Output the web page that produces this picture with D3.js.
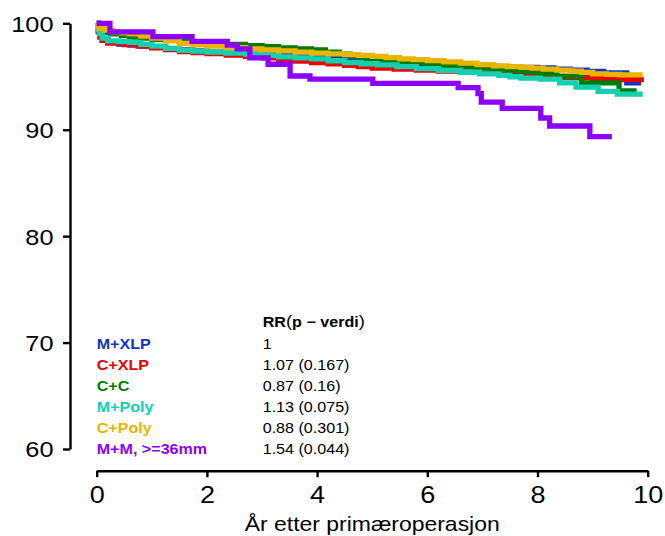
<!DOCTYPE html>
<html>
<head>
<meta charset="utf-8">
<script src="https://cdn.jsdelivr.net/npm/d3@7"></script>
<style>
  html, body { margin: 0; padding: 0; background: #fff; }
  svg { display: block; }
  text { font-family: "Liberation Sans", Arial, Helvetica, sans-serif; }
</style>
</head>
<body>
<div id="chart"></div>
<script>
// ---- data (Kaplan-Meier style survival, %) ----
const seriesNames = ["M+XLP", "C+XLP", "C+C", "M+Poly", "C+Poly", "M+M, >=36mm"];
const rrLabels = ["1", "1.07 (0.167)", "0.87 (0.16)", "1.13 (0.075)", "0.88 (0.301)", "1.54 (0.044)"];
const xTicks = [0, 2, 4, 6, 8, 10];
const yTicks = [60, 70, 80, 90, 100];
const xTitle = "År etter primæroperasjon";

const mXlp = [[0,100],[0.03,99.3],[0.06,98.8],[0.1,98.45],[0.2,98.2],[0.4,98.05],[0.6,97.95],[0.8,97.85],[1.0,97.75],[1.25,97.62],[1.5,97.5],[1.75,97.4],[2.0,97.3],[2.35,97.2],[2.7,97.1],[3.0,97.02],[3.3,96.95],[3.6,96.88],[3.9,96.8],[4.2,96.68],[4.5,96.55],[4.8,96.45],[5.1,96.35],[5.45,96.25],[5.8,96.15],[6.2,96.07],[6.6,96.0],[6.95,95.95],[7.3,95.9],[7.65,95.85],[8.0,95.8],[8.3,95.7],[8.6,95.6],[8.9,95.48],[9.2,95.35],[9.62,94.4],[9.88,94.4]];
const cXlp = [[0,100],[0.03,99.2],[0.06,98.7],[0.1,98.4],[0.2,98.15],[0.5,98.0],[0.75,97.85],[1.0,97.7],[1.25,97.52],[1.5,97.35],[1.75,97.25],[2.0,97.15],[2.35,97.02],[2.7,96.9],[3.0,96.75],[3.3,96.6],[3.6,96.45],[3.9,96.3],[4.2,96.18],[4.5,96.05],[4.75,95.92],[5.0,95.8],[5.4,95.7],[5.8,95.6],[6.2,95.5],[6.6,95.4],[6.95,95.32],[7.3,95.25],[7.65,95.2],[8.0,95.15],[8.25,95.02],[8.5,94.9],[9.0,94.8],[9.5,94.7],[9.93,94.7]];
const cC = [[0,100],[0.05,99.4],[0.1,99.15],[0.25,99.0],[0.45,98.85],[0.6,98.7],[0.8,98.6],[1.0,98.5],[1.25,98.4],[1.5,98.3],[1.75,98.22],[2.0,98.15],[2.35,98.02],[2.7,97.9],[3.0,97.8],[3.3,97.7],[3.6,97.6],[3.9,97.5],[4.15,97.3],[4.4,97.1],[4.6,96.9],[4.8,96.7],[5.15,96.55],[5.5,96.4],[5.75,96.3],[6.0,96.2],[6.3,96.05],[6.6,95.9],[6.9,95.78],[7.2,95.65],[7.45,95.55],[7.7,95.45],[8.0,95.3],[8.35,95.0],[8.8,94.4],[9.48,93.65],[9.8,93.65]];
const mPoly = [[0,100],[0.02,99.4],[0.05,99.0],[0.1,98.6],[0.2,98.35],[0.4,98.28],[0.6,98.2],[0.8,98.02],[1.0,97.85],[1.25,97.65],[1.5,97.45],[1.75,97.38],[2.0,97.3],[2.35,97.2],[2.7,97.1],[3.0,96.98],[3.3,96.85],[3.6,96.75],[3.9,96.65],[4.2,96.48],[4.5,96.3],[4.8,96.2],[5.1,96.1],[5.45,95.92],[5.8,95.75],[6.2,95.58],[6.6,95.4],[6.95,95.25],[7.3,95.1],[7.5,94.98],[7.7,94.85],[8.05,94.75],[8.4,94.4],[8.7,94.0],[9.1,93.6],[9.45,93.35],[9.91,93.35]];
const cPoly = [[0,100],[0.02,99.7],[0.05,99.5],[0.15,99.35],[0.3,99.2],[0.45,99.1],[0.6,99.0],[0.8,98.8],[1.0,98.6],[1.25,98.35],[1.5,98.1],[1.75,97.98],[2.0,97.85],[2.35,97.72],[2.7,97.6],[3.0,97.5],[3.3,97.4],[3.6,97.3],[3.9,97.2],[4.2,97.12],[4.5,97.05],[4.75,96.98],[5.0,96.9],[5.25,96.78],[5.5,96.65],[5.75,96.58],[6.0,96.5],[6.3,96.38],[6.6,96.25],[6.9,96.12],[7.2,96.0],[7.45,95.92],[7.7,95.85],[7.9,95.78],[8.1,95.7],[8.35,95.6],[8.6,95.5],[8.8,95.38],[9.0,95.25],[9.25,95.2],[9.5,95.15],[9.91,95.15]];
const mM36 = [[0,100],[0.24,99.2],[1.02,98.75],[1.73,98.3],[2.37,97.95],[2.55,97.6],[2.78,96.75],[3.11,96.15],[3.51,95.05],[3.87,94.75],[5.01,94.36],[6.56,93.95],[6.92,93.4],[6.98,92.6],[7.36,92.0],[8.06,91.1],[8.22,90.35],[8.95,89.35],[9.35,89.35]];

const seriesData = [mXlp, cXlp, cC, mPoly, cPoly, mM36];
const colors = ["#1234C8", "#EE0000", "#057A05", "#12D0B0", "#E8B600", "#8C00FF"];

// ---- layout ----
const W = 665, H = 536;
const sx = 1.15; // horizontal stretch of glyphs in the reference

const svg = d3.select("#chart").append("svg")
  .attr("width", W).attr("height", H)
  .style("background", "#fff");

const x = d3.scaleLinear().domain([0, 10]).range([96.7, 647.7]);
const y = d3.scaleLinear().domain([60, 100]).range([449, 23.3]);

// y axis
const yAxisG = svg.append("g")
  .attr("transform", "translate(70,0)")
  .call(d3.axisLeft(y).tickValues(yTicks).tickSize(7).tickSizeOuter(0).tickFormat(d3.format("d")));
// x axis
const xAxisG = svg.append("g")
  .attr("transform", "translate(0,470.7)")
  .call(d3.axisBottom(x).tickValues(xTicks).tickSize(6.5).tickSizeOuter(0).tickFormat(d3.format("d")));

[yAxisG, xAxisG].forEach(g => {
  g.select(".domain").attr("stroke", "#000").attr("stroke-width", 2.4);
  g.selectAll(".tick line").attr("stroke", "#000").attr("stroke-width", 2.4);
  g.selectAll(".tick text").attr("fill", "#000").attr("font-family", "Liberation Sans, Arial, sans-serif");
});
yAxisG.selectAll(".tick text")
  .attr("x", null).attr("dy", "0.36em")
  .attr("font-size", 22)
  .attr("transform", `translate(-16.5,0) scale(${sx},1)`);
xAxisG.selectAll(".tick text")
  .attr("y", null).attr("dy", null)
  .attr("font-size", 23.5)
  .attr("transform", `translate(0,32.5) scale(${sx},1)`);

// x title
svg.append("text")
  .attr("transform", `translate(${(x(0) + x(10)) / 2},531) scale(1.12,1)`)
  .attr("text-anchor", "middle")
  .attr("font-size", 20.5)
  .attr("fill", "#000")
  .text(xTitle);

// curves
const line = d3.line()
  .x(d => x(d[0]))
  .y(d => y(d[1]))
  .curve(d3.curveStepAfter);

svg.append("g").selectAll("path")
  .data(seriesData)
  .join("path")
  .attr("d", d => line(d))
  .attr("fill", "none")
  .attr("stroke", (d, i) => colors[i])
  .attr("stroke-width", 5.3)
  .attr("stroke-linejoin", "miter")
  .attr("stroke-linecap", "butt");

// legend / RR table
const legX = 96.7, valX = 262.7, row0 = 349.3, rowStep = 20.85;
const header = svg.append("text")
  .attr("transform", `translate(${valX},327.3) scale(${sx},1)`)
  .attr("font-size", 14)
  .attr("fill", "#000");
header.append("tspan").attr("font-weight", "bold").text("RR");
header.append("tspan").attr("font-size", 16).attr("font-weight", "normal").text("(");
header.append("tspan").attr("font-weight", "bold").text("p \u2212 verdi");
header.append("tspan").attr("font-size", 16).attr("font-weight", "normal").text(")");

const legG = svg.append("g");
seriesNames.forEach((name, i) => {
  legG.append("text")
    .attr("transform", `translate(${legX},${row0 + i * rowStep}) scale(${sx},1)`)
    .attr("font-size", 14)
    .attr("font-weight", "bold")
    .attr("fill", colors[i])
    .text(name);
  legG.append("text")
    .attr("transform", `translate(${valX},${row0 + i * rowStep}) scale(${sx},1)`)
    .attr("font-size", 14)
    .attr("fill", "#000")
    .text(rrLabels[i]);
});
</script>
</body>
</html>
